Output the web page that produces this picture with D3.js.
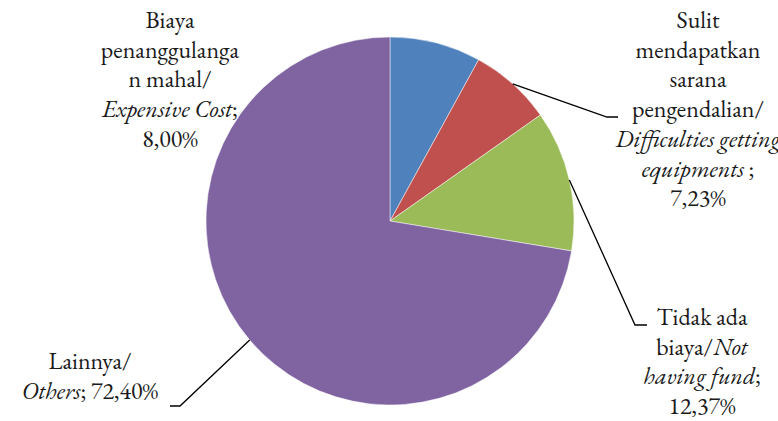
<!DOCTYPE html>
<html>
<head>
<meta charset="utf-8">
<script src="https://cdn.jsdelivr.net/npm/d3@7/dist/d3.min.js"></script>
<style>
  html, body { margin: 0; padding: 0; background: #fff; }
  svg { display: block; }
</style>
</head>
<body>
<svg id="chart" width="778" height="421"></svg>
<script>
// Slice data (percent), in drawing order clockwise from 12 o'clock
const categories = ["Biaya penanggulangan mahal", "Sulit mendapatkan sarana pengendalian", "Tidak ada biaya", "Lainnya"];
const values = [8.00, 7.23, 12.37, 72.40];
const colors = ["#4F81BD", "#C0504D", "#9BBB59", "#8064A2"];

// Label lines: each line is a list of [text, italic] segments
const labelLines = [
  [[["Biaya", false]], [["penanggulanga", false]], [["n mahal/", false]], [["Expensive Cost", true], [";", false]], [["8,00%", false]]],
  [[["Sulit", false]], [["mendapatkan", false]], [["sarana", false]], [["pengendalian/", false]], [["Difficulties getting", true]], [["equipments", true], [" ;", false]], [["7,23%", false]]],
  [[["Tidak ada", false]], [["biaya/", false], ["Not", true]], [["having fund", true], [";", false]], [["12,37%", false]]],
  [[["Lainnya/", false]], [["Others", true], ["; 72,40%", false]]]
];

const W = 778, H = 421;
const cx = 390, cy = 221, R = 184;
const lineH = 29.7;
const FONT = "'EB Garamond', Garamond, 'Noto Serif', Tinos, FreeSerif, 'Liberation Serif', 'DejaVu Serif', Times, serif";

// Label block placement: centre x, first baseline y, and leader elbow (null = no leader)
const labelPos = [
  { x: 170, y: 28, elbow: null },
  { x: 698, y: 28, elbow: { x: 607, y: 117, end: 618 } },
  { x: 702, y: 325, elbow: { x: 635, y: 325, end: 647 } },
  { x: 90, y: 369, elbow: { x: 180, y: 406, end: 170 } }
];

const svg = d3.select("#chart");
const g = svg.append("g").attr("transform", `translate(${cx},${cy})`);

const pie = d3.pie().sort(null).value(d => d).startAngle(0).endAngle(2 * Math.PI);
const arcs = pie(values);
const arc = d3.arc().innerRadius(0).outerRadius(R);

g.selectAll("path.slice")
  .data(arcs)
  .join("path")
  .attr("class", "slice")
  .attr("d", arc)
  .attr("fill", (d, i) => colors[i])
  .attr("stroke", "#ffffff")
  .attr("stroke-opacity", 0.6)
  .attr("stroke-width", 0.8);

// Leader lines from the slice edge (mid angle) to the label
arcs.forEach((a, i) => {
  const p = labelPos[i];
  if (!p.elbow) return;
  const mid = (a.startAngle + a.endAngle) / 2;
  const sx = cx + R * Math.sin(mid);
  const sy = cy - R * Math.cos(mid);
  svg.append("polyline")
    .attr("points", `${sx},${sy} ${p.elbow.x},${p.elbow.y} ${p.elbow.end},${p.elbow.y}`)
    .attr("fill", "none")
    .attr("stroke", "#000")
    .attr("stroke-width", 1.3);
});

// Labels
labelLines.forEach((lines, i) => {
  const p = labelPos[i];
  lines.forEach((segs, j) => {
    const t = svg.append("text")
      .attr("x", p.x)
      .attr("y", p.y + j * lineH)
      .attr("text-anchor", "middle")
      .attr("font-family", FONT)
      .attr("font-size", 24)
      .attr("fill", "#1a1a1a");
    segs.forEach(([s, it]) => {
      t.append("tspan")
        .attr("font-style", it ? "italic" : "normal")
        .text(s);
    });
  });
});
</script>
</body>
</html>
